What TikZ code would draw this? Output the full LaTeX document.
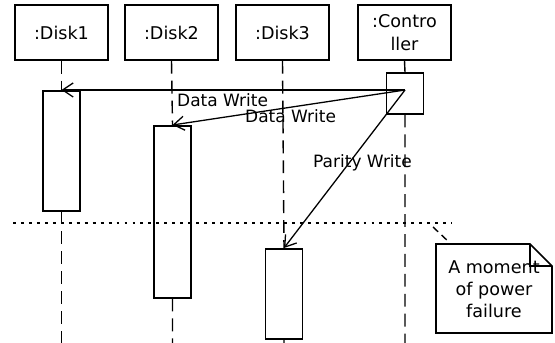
\documentclass[tikz,border=0pt]{standalone}
\usepackage{fontspec}
\setmainfont{DejaVu Sans}
\usetikzlibrary{arrows.meta}
\begin{document}
\begin{tikzpicture}[x=0.03cm,y=-0.03cm,
  head/.style={draw,line width=1.3pt,minimum width=2.79cm,minimum height=1.65cm,
    align=center,inner sep=1pt,font=\fontsize{15}{19.5}\selectfont},
  act/.style={draw,line width=1.3pt,fill=white,minimum width=1.1cm,anchor=north},
  life/.style={line width=1.2pt,dash pattern=on 11pt off 6pt},
  msg/.style={line width=1.1pt,-{Straight Barb[length=9pt,width=12pt]}},
  lbl/.style={font=\fontsize{14.5}{16}\selectfont,inner sep=0pt,anchor=west}]
\useasboundingbox (0,0) rectangle (555,343);
% object heads
\node[head] (d1) at (61.5,32.5) {:Disk1};
\node[head] (d2) at (171.5,32.5) {:Disk2};
\node[head] (d3) at (282.5,32.5) {:Disk3};
\node[head] (ctl) at (404.5,32.5) {:Contro\\ller};
% activations
\node[act,minimum height=3.6cm] (a1) at (61.5,90) {};
\node[act,minimum height=5.16cm] (a2) at (172.5,125) {};
\node[act,minimum height=2.7cm] (a3) at (284,248) {};
\node[act,minimum height=1.23cm] (ac) at (405,72) {};
\coordinate (bot1) at (61.5,343);
\coordinate (bot2) at (172.5,343);
\coordinate (bot3) at (284,343);
\coordinate (botc) at (405,343);
% lifelines
\draw[life] (d1.south) -- (a1.north) (a1.south) -- (bot1);
\draw[life] (d2.south) -- (a2.north) (a2.south) -- (bot2);
\draw[life] (d3.south) -- (a3.north) (a3.south) -- (bot3);
\draw[life] (ctl.south) -- (ac.north) (ac.south) -- (botc);
% power failure line
\coordinate (fl) at (13,223);
\coordinate (fr) at (452,223);
\draw[line width=1.3pt,dash pattern=on 2.5pt off 4.3pt] (fl) -- (fr);
% messages
\coordinate (src) at (405,90);
\draw[msg] (src) -- (a1.north);
\draw[msg] (src) -- (a2.north);
\draw[msg] (src) -- (a3.north);
\node[lbl] (l1) at (177,100) {Data Write};
\node[lbl] (l2) at (245,116) {Data Write};
\node[lbl] (l3) at (313,163) {Parity Write};
% note
\draw[line width=1.3pt,fill=white] (436,244) -- (530,244) -- (552,266) -- (552,333)
  -- (436,333) -- cycle;
\draw[line width=1.3pt] (530,244) -- (530,266) -- (552,266);
\node[align=center,font=\fontsize{15}{19}\selectfont] (nt) at (494,289)
  {A moment\\of power\\failure};
\coordinate (nc) at (433,227);
\coordinate (nn) at (450,243);
\draw[line width=1.2pt,dash pattern=on 6pt off 4pt] (nc) -- (nn);
\end{tikzpicture}
\end{document}
